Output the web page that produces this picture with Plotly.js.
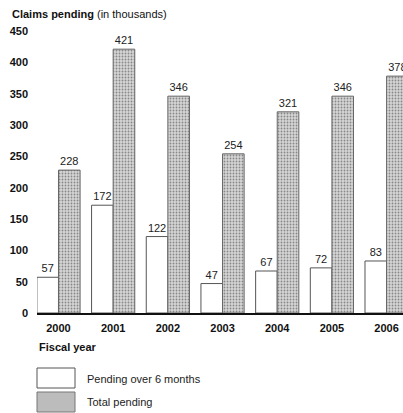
<!DOCTYPE html>
<html>
<head>
<meta charset="utf-8">
<script src="https://cdn.plot.ly/plotly-3.0.1.min.js"></script>
<style>html,body{margin:0;padding:0;background:#fff;}#chart{width:403px;height:413px;}</style>
</head>
<body>
<div id="chart"></div>
<script>
var years = ["2000", "2001", "2002", "2003", "2004", "2005", "2006"];
var pendingOver6 = [57, 172, 122, 47, 67, 72, 83];
var totalPending = [228, 421, 346, 254, 321, 346, 378];
var yTicks = [0, 50, 100, 150, 200, 250, 300, 350, 400, 450];
var seriesNames = ["Pending over 6 months", "Total pending"];

var FONT = "Liberation Sans, Arial, Helvetica, sans-serif";

var traces = [
  {
    type: "bar", name: seriesNames[0], x: years, y: pendingOver6,
    text: pendingOver6.map(String), textposition: "outside", cliponaxis: false,
    textfont: {family: FONT, size: 11, color: "#222"},
    marker: {color: "#ffffff", line: {color: "#555", width: 1}},
    hoverinfo: "x+y"
  },
  {
    type: "bar", name: seriesNames[1], x: years, y: totalPending,
    text: totalPending.map(String), textposition: "outside", cliponaxis: false,
    textfont: {family: FONT, size: 11, color: "#222"},
    marker: {color: "#c2c2c2", line: {color: "#666", width: 1},
      pattern: {shape: ".", fgcolor: "#888888", bgcolor: "#d6d6d6", size: 3, solidity: 0.3}},
    hoverinfo: "x+y"
  }
];

var layout = {
  width: 403, height: 413,
  margin: {l: 37, r: 0, t: 31, b: 100},
  paper_bgcolor: "#fff", plot_bgcolor: "#fff",
  showlegend: false,
  barmode: "group", bargap: 0.21, bargroupgap: 0,
  font: {family: FONT, size: 11, color: "#111"},
  xaxis: {
    type: "category", range: [-0.393, 6.30], fixedrange: true,
    showgrid: false, zeroline: false,
    showline: true, linecolor: "#111", linewidth: 2,
    ticks: "", ticklabelstandoff: 4,
    tickfont: {family: FONT, size: 11, color: "#111", weight: "bold"}
  },
  yaxis: {
    range: [0, 450], fixedrange: true,
    tickvals: yTicks, ticktext: yTicks.map(String),
    showgrid: false, zeroline: false, showline: false,
    ticks: "", ticklabelstandoff: 8,
    tickfont: {family: FONT, size: 11, color: "#111", weight: "bold"}
  },
  annotations: [
    {xref: "paper", yref: "paper", x: -27/366, y: 1 + 17/282, xanchor: "left", yanchor: "middle",
     text: "<b>Claims pending</b> (in thousands)", showarrow: false,
     font: {family: FONT, size: 11, color: "#111"}},
    {xref: "paper", yref: "paper", x: 0, y: -34/282, xanchor: "left", yanchor: "middle",
     text: "<b>Fiscal year</b>", showarrow: false,
     font: {family: FONT, size: 11, color: "#111"}},
    {xref: "paper", yref: "paper", x: 48/366, y: -66/282, xanchor: "left", yanchor: "middle",
     text: seriesNames[0], showarrow: false,
     font: {family: FONT, size: 11, color: "#222"}},
    {xref: "paper", yref: "paper", x: 48/366, y: -89/282, xanchor: "left", yanchor: "middle",
     text: seriesNames[1], showarrow: false,
     font: {family: FONT, size: 11, color: "#222"}}
  ],
  shapes: [
    {type: "rect", xref: "paper", yref: "paper", x0: 0, x1: 38/366, y0: -75/282, y1: -55/282,
     fillcolor: "#fff", line: {color: "#555", width: 1}},
    {type: "rect", xref: "paper", yref: "paper", x0: 0, x1: 38/366, y0: -99/282, y1: -79/282,
     fillcolor: "#bcbcbc", line: {color: "#777", width: 1}}
  ]
};

Plotly.newPlot("chart", traces, layout, {displayModeBar: false, staticPlot: true});
</script>
</body>
</html>
